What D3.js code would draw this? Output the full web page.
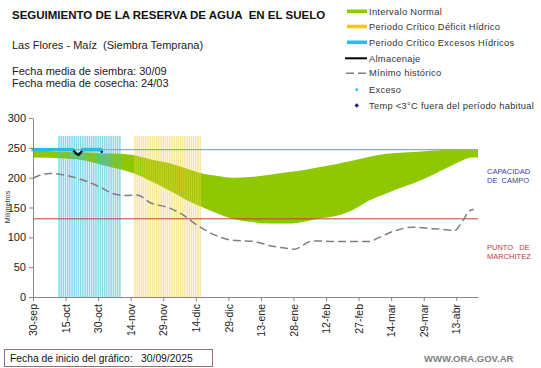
<!DOCTYPE html>
<html><head><meta charset="utf-8">
<script src="https://cdn.jsdelivr.net/npm/d3@7"></script>
<style>
body{margin:0;background:#fff}
svg{display:block}
text{font-family:"Liberation Sans",Arial,sans-serif;white-space:pre}
</style>
</head><body>
<svg id="c" width="541" height="368"></svg>
<script>
// ---------- DATA ----------
const startDate = "2025-09-30";
const endDate = "2026-04-23";

const normalDates = ["2025-09-30","2025-10-15","2025-10-25","2025-10-31","2025-11-09","2025-11-15","2025-11-23","2025-12-01","2025-12-09","2025-12-16","2025-12-24","2025-12-31","2026-01-08","2026-01-17","2026-01-25","2026-02-02","2026-02-08","2026-02-17","2026-02-25","2026-03-04","2026-03-12","2026-03-20","2026-03-28","2026-04-05","2026-04-13","2026-04-17","2026-04-20","2026-04-23"];
const normalUpper = [246,243,242,241,240,238,231,225,216,208,203,200,201,205,209,213,217,223,229,235,240,242,244,246,247,247,247,247];
const normalLower = [234,232,228,222,214,208,195,180,164,152,140,131,126,123,123,126,131,136,147,162,174,185,196,210,224,231,234,234];

const minDates = ["2025-09-30","2025-10-04","2025-10-08","2025-10-15","2025-10-23","2025-10-31","2025-11-06","2025-11-12","2025-11-17","2025-11-23","2025-12-02","2025-12-07","2025-12-16","2025-12-24","2025-12-31","2026-01-10","2026-01-17","2026-01-24","2026-01-28","2026-02-06","2026-02-17","2026-02-27","2026-03-04","2026-03-08","2026-03-15","2026-03-24","2026-04-01","2026-04-10","2026-04-12","2026-04-16","2026-04-19","2026-04-21"];
const minValues = [199,205,207,204,196,184,173,170,171,158,149,140,117,102,95,93,86,82,80,94,93,93,93,99,110,117,115,112,111,128,144,147];

// daily values starting at startDate
const almacenaje = [247,247,247,247,247,247,247,247,247,247,247,247,247,247,247,247,247,247,247,244,240,238,242,247,247,247,247,247,247,247,247,247,242];
const exceso     = [247,247,247,247,247,247,247,247,247,247,247,247,247,247,247,247,247,247,247,null,null,null,null,247,247,247,247,247,247,247,247,247,null];

const capacidadCampo = 247;
const puntoMarchitez = 131;
const periodoExcesos = ["2025-10-12","2025-11-09"];
const periodoDeficit = ["2025-11-16","2025-12-16"];
const periodoAltura = 270;

const tickDates = ["2025-09-30","2025-10-15","2025-10-30","2025-11-14","2025-11-29","2025-12-14","2025-12-29","2026-01-13","2026-01-28","2026-02-12","2026-02-27","2026-03-14","2026-03-29","2026-04-13"];
const tickLabels = ["30-sep","15-oct","30-oct","14-nov","29-nov","14-dic","29-dic","13-ene","28-ene","12-feb","27-feb","14-mar","29-mar","13-abr"];
const yTicks = [0,50,100,150,200,250,300];

const legendItems = ["Intervalo Normal","Periodo Crítico Déficit Hídrico","Periodo Crítico Excesos Hídricos","Almacenaje","Mínimo histórico","Exceso","Temp <3°C fuera del período habitual"];

// ---------- CHART ----------
const parse = d3.timeParse("%Y-%m-%d");
const svg = d3.select("#c");
const x = d3.scaleTime().domain([parse(startDate), parse(endDate)]).range([33, 478]);
const y = d3.scaleLinear().domain([0, 300]).range([297, 118]);

const green = "#8fc700";
const normal = normalDates.map((d,i)=>({d:parse(d), hi:normalUpper[i], lo:normalLower[i]}));
svg.append("path").datum(normal)
  .attr("fill", green)
  .attr("d", d3.area().x(p=>x(p.d)).y0(p=>y(p.lo)).y1(p=>y(p.hi)).curve(d3.curveMonotoneX));

// critical period bars (daily)
function periodBars(per, color, op){
  const days = d3.timeDay.range(parse(per[0]), d3.timeDay.offset(parse(per[1]),1));
  svg.append("g").selectAll("rect").data(days).join("rect")
    .attr("x", d=>x(d)-0.75).attr("width", 1.5)
    .attr("y", y(periodoAltura)).attr("height", y(0)-y(periodoAltura))
    .attr("fill", color).attr("fill-opacity", op);
}
periodBars(periodoExcesos, "#3cbfd8", 0.6);
periodBars(periodoDeficit, "#f2d240", 0.55);

// reference lines
svg.append("line").attr("x1", x(parse(startDate))).attr("x2", x(parse(endDate)))
  .attr("y1", y(capacidadCampo)).attr("y2", y(capacidadCampo))
  .attr("stroke", "#8eaacb").attr("stroke-width", 1.3);
svg.append("line").attr("x1", x(parse(startDate))).attr("x2", x(parse(endDate)))
  .attr("y1", y(puntoMarchitez)).attr("y2", y(puntoMarchitez))
  .attr("stroke", "#cc3b3b").attr("stroke-width", 1);

// minimum historic
const minData = minDates.map((d,i)=>({d:parse(d), v:minValues[i]}));
svg.append("path").datum(minData)
  .attr("fill","none").attr("stroke","#7f7f7f").attr("stroke-width",1.5)
  .attr("stroke-dasharray","8,4")
  .attr("d", d3.line().x(p=>x(p.d)).y(p=>y(p.v)).curve(d3.curveMonotoneX));

// almacenaje
const alm = almacenaje.map((v,i)=>({d:d3.timeDay.offset(parse(startDate), i), v}));
svg.append("path").datum(alm)
  .attr("fill","none").attr("stroke","#000").attr("stroke-width",2.2)
  .attr("d", d3.line().x(p=>x(p.d)).y(p=>y(p.v)));

// exceso markers
const exc = exceso.map((v,i)=>({d:d3.timeDay.offset(parse(startDate), i), v})).filter(p=>p.v!=null);
svg.append("g").selectAll("rect").data(exc).join("rect")
  .attr("x", p=>x(p.d)-1.6).attr("y", p=>y(p.v)-1.7)
  .attr("width", 3.2).attr("height", 3.4).attr("fill", "#1ec0e8");

// axes
const xAxis = svg.append("g").attr("transform", `translate(0,${y(0)})`)
  .call(d3.axisBottom(x).tickValues(tickDates.map(parse))
    .tickFormat((d,i)=>tickLabels[i]).tickSize(4).tickSizeOuter(0));
xAxis.selectAll("text").attr("transform","rotate(-90)")
  .attr("x",-7).attr("y",0).attr("dy","0.35em").style("text-anchor","end")
  .attr("font-size","10.5px").attr("fill","#222").attr("font-family","Liberation Sans, Arial");
const yAxis = svg.append("g").attr("transform", `translate(${x(parse(startDate))},0)`)
  .call(d3.axisLeft(y).tickValues(yTicks).tickSize(4).tickSizeOuter(0));
yAxis.selectAll("text").attr("font-size","11px").attr("fill","#222").attr("font-family","Liberation Sans, Arial");
svg.selectAll(".domain").attr("stroke","#868686");
svg.selectAll(".tick line").attr("stroke","#868686");

svg.append("text").attr("transform","translate(10,207) rotate(-90)")
  .attr("text-anchor","middle").attr("font-size","7px").attr("fill","#333").text("Milímetros");

// texts
svg.append("text").attr("x",12).attr("y",19).attr("font-size","11.5px").attr("font-weight","bold").attr("fill","#111")
  .text("SEGUIMIENTO DE LA RESERVA DE AGUA  EN EL SUELO");
svg.append("text").attr("x",12).attr("y",49).attr("font-size","11px").attr("fill","#222")
  .text("Las Flores - Maíz  (Siembra Temprana)");
svg.append("text").attr("x",12).attr("y",75).attr("font-size","11px").attr("fill","#222")
  .text("Fecha media de siembra: 30/09");
svg.append("text").attr("x",12).attr("y",87).attr("font-size","11px").attr("fill","#222")
  .text("Fecha media de cosecha: 24/03");

// legend
const ly = [11.3, 26.5, 42.3, 58.3, 73.2, 89.7, 105.5];
const lg = svg.append("g");
lg.append("rect").attr("x",347).attr("y",ly[0]-1.8).attr("width",20).attr("height",3.6).attr("fill",green);
lg.append("rect").attr("x",347).attr("y",ly[1]-1.8).attr("width",20).attr("height",3.6).attr("fill","#f7c61c");
lg.append("rect").attr("x",347).attr("y",ly[2]-1.8).attr("width",20).attr("height",3.6).attr("fill","#22c0ee");
lg.append("line").attr("x1",345).attr("x2",367).attr("y1",ly[3]).attr("y2",ly[3]).attr("stroke","#000").attr("stroke-width",2);
lg.append("line").attr("x1",346).attr("x2",367).attr("y1",ly[4]).attr("y2",ly[4]).attr("stroke","#7f7f7f").attr("stroke-width",1.5).attr("stroke-dasharray","8,4");
lg.append("rect").attr("x",355.5).attr("y",ly[5]-1.2).attr("width",2.4).attr("height",2.4).attr("fill","#1ec0e8");
lg.append("path").attr("d",`M356.7,${ly[6]-2.2}L358.9,${ly[6]}L356.7,${ly[6]+2.2}L354.5,${ly[6]}Z`).attr("fill","#1a1a8c");
lg.selectAll("text.l").data(legendItems).join("text").attr("class","l")
  .attr("x",369).attr("y",(d,i)=>ly[i]+3.2).attr("font-size","9.3px").attr("letter-spacing","0.3px")
  .attr("fill","#333").text(d=>d);

// right labels
svg.append("text").attr("x",487).attr("y",174).attr("font-size","7.5px").attr("fill","#3a3ab0").text("CAPACIDAD");
svg.append("text").attr("x",487).attr("y",182.5).attr("font-size","7.5px").attr("fill","#3a3ab0").text("DE  CAMPO");
svg.append("text").attr("x",487).attr("y",250).attr("font-size","7.5px").attr("fill","#c03838").text("PUNTO   DE");
svg.append("text").attr("x",487).attr("y",258.5).attr("font-size","7.5px").attr("fill","#c03838").text("MARCHITEZ");

// bottom
svg.append("rect").attr("x",4.5).attr("y",349.5).attr("width",208).attr("height",17)
  .attr("fill","#fff").attr("stroke","#8a7474").attr("stroke-width",1);
svg.append("text").attr("x",10).attr("y",362).attr("font-size","10.3px").attr("fill","#111")
  .attr("font-family","Lato, 'Open Sans', sans-serif")
  .text("Fecha de inicio del gráfico:   30/09/2025");
svg.append("text").attr("x",424).attr("y",362).attr("font-size","9.5px").attr("font-weight","bold").attr("fill","#808080")
  .text("WWW.ORA.GOV.AR");
</script>
</body></html>
